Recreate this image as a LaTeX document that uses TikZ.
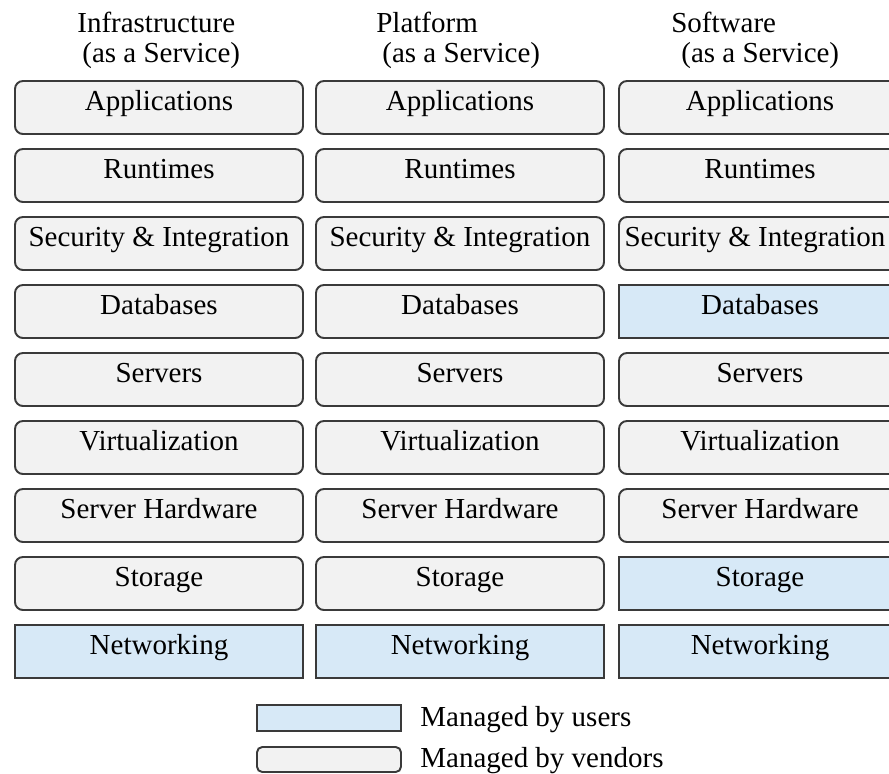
\documentclass[tikz,border=0pt]{standalone}
\usepackage{fontspec}
\setmainfont{Liberation Serif}
\definecolor{vendorgray}{RGB}{242, 242, 242}
\definecolor{userblue}{RGB}{215, 233, 247}
\definecolor{edgegray}{RGB}{58, 58, 58}
\usetikzlibrary{positioning}

\tikzset{
  layer/.style={draw=edgegray, line width=1.1pt, minimum width=5.76cm, minimum height=1.06cm,
    inner sep=0pt, font=\fontsize{16.5}{19}\selectfont, text height=0.66em, text depth=0.34em},
  vendor/.style={layer, fill=vendorgray, rounded corners=4.5pt},
  user/.style={layer, fill=userblue},
  saas/.style={minimum width=5.64cm},
  head/.style={anchor=base west, inner sep=0pt, font=\fontsize{16.5}{19}\selectfont}
}

\begin{document}
\begin{tikzpicture}
  \clip (0, 0) rectangle (17.78, -15.46);

  % Column headings
  \node[head] (ihead) at (1.54, -0.64) {Infrastructure};
  \node[head] (isub) at (1.64, -1.24) {(as a Service)};
  \node[head] (phead) at (7.52, -0.64) {Platform};
  \node[head] (psub) at (7.64, -1.24) {(as a Service)};
  \node[head] (shead) at (13.42, -0.64) {Software};
  \node[head] (ssub) at (13.62, -1.24) {(as a Service)};

  % IaaS stack
  \node[vendor] (i-app) at (3.18, -2.15) {Applications};
  \node[vendor] (i-run) at (3.18, -3.51) {Runtimes};
  \node[vendor] (i-sec) at (3.18, -4.87) {Security \& Integration};
  \node[vendor] (i-db) at (3.18, -6.23) {Databases};
  \node[vendor] (i-srv) at (3.18, -7.59) {Servers};
  \node[vendor] (i-virt) at (3.18, -8.95) {Virtualization};
  \node[vendor] (i-hw) at (3.18, -10.31) {Server Hardware};
  \node[vendor] (i-sto) at (3.18, -11.67) {Storage};
  \node[user] (i-net) at (3.18, -13.03) {Networking};

  % PaaS stack
  \node[vendor] (p-app) at (9.20, -2.15) {Applications};
  \node[vendor] (p-run) at (9.20, -3.51) {Runtimes};
  \node[vendor] (p-sec) at (9.20, -4.87) {Security \& Integration};
  \node[vendor] (p-db) at (9.20, -6.23) {Databases};
  \node[vendor] (p-srv) at (9.20, -7.59) {Servers};
  \node[vendor] (p-virt) at (9.20, -8.95) {Virtualization};
  \node[vendor] (p-hw) at (9.20, -10.31) {Server Hardware};
  \node[vendor] (p-sto) at (9.20, -11.67) {Storage};
  \node[user] (p-net) at (9.20, -13.03) {Networking};

  % SaaS stack (runs off the right edge)
  \node[vendor, saas] (s-app) at (15.20, -2.15) {Applications};
  \node[vendor, saas] (s-run) at (15.20, -3.51) {Runtimes};
  \node[vendor, saas] (s-sec) at (15.20, -4.87) {\hspace*{-0.2cm}Security \& Integration};
  \node[user, saas] (s-db) at (15.20, -6.23) {Databases};
  \node[vendor, saas] (s-srv) at (15.20, -7.59) {Servers};
  \node[vendor, saas] (s-virt) at (15.20, -8.95) {Virtualization};
  \node[vendor, saas] (s-hw) at (15.20, -10.31) {Server Hardware};
  \node[user, saas] (s-sto) at (15.20, -11.67) {Storage};
  \node[user, saas] (s-net) at (15.20, -13.03) {Networking};

  % Legend
  \node[user, minimum width=2.88cm, minimum height=0.52cm] (key-user) at (6.58, -14.36) {};
  \node[vendor, minimum width=2.88cm, minimum height=0.50cm, rounded corners=3pt] (key-vendor) at (6.58, -15.19) {};
  \node[head] (key-user-text) at (8.40, -14.52) {Managed by users};
  \node[head] (key-vendor-text) at (8.40, -15.34) {Managed by vendors};
\end{tikzpicture}
\end{document}
